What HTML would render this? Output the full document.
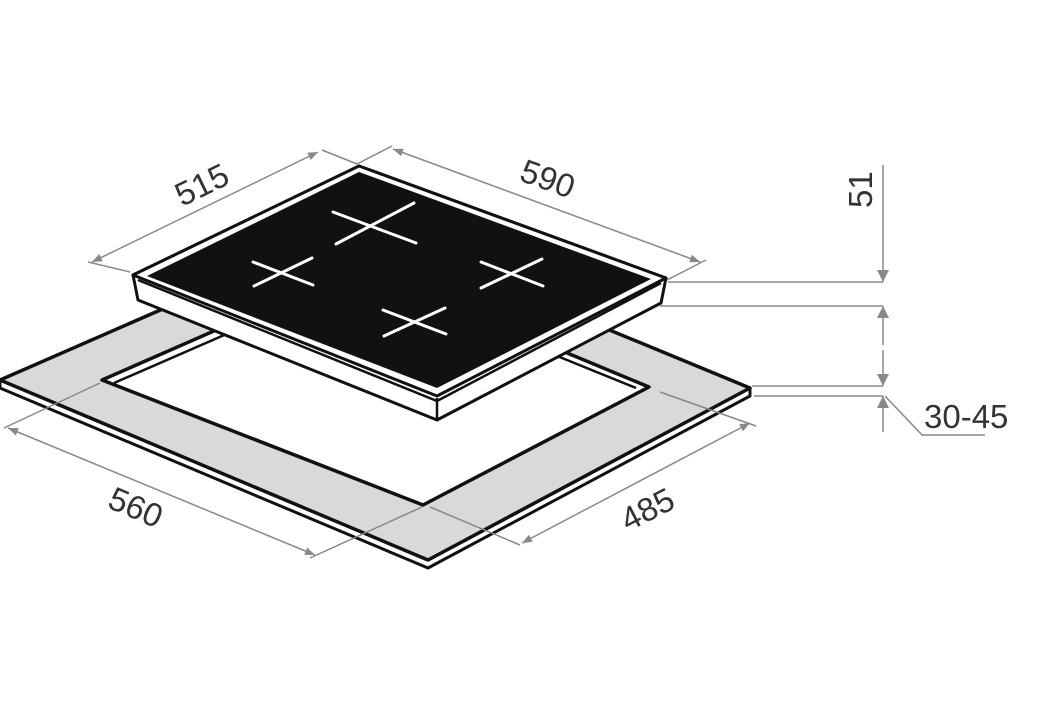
<!DOCTYPE html>
<html><head><meta charset="utf-8"><style>html,body{margin:0;padding:0;background:#fff}svg{display:block}</style></head>
<body>
<svg width="1037" height="708" viewBox="0 0 1037 708" xmlns="http://www.w3.org/2000/svg">
<defs>
<marker id="a" viewBox="0 0 10 10" refX="10" refY="5" markerWidth="12" markerHeight="10" orient="auto-start-reverse" markerUnits="userSpaceOnUse"><path d="M0,1 L10,5 L0,9 Z" fill="#888"/></marker>
<marker id="b" viewBox="0 0 10 10" refX="10" refY="5" markerWidth="16" markerHeight="12" orient="auto-start-reverse" markerUnits="userSpaceOnUse"><path d="M0,0 L10,5 L0,10 Z" fill="#888"/></marker>
</defs>
<!-- countertop -->
<polygon points="0,380 0,388 428,568 750,396 750,388 428,560" fill="#fff" stroke="#111" stroke-width="3" stroke-linejoin="round"/>
<polygon points="0,380 355,225 750,388 428,560" fill="#d9d9d9" stroke="#111" stroke-width="3.5" stroke-linejoin="round"/>
<polygon points="102,380 360,267 649,387 423,505" fill="#fff" stroke="#111" stroke-width="3.5" stroke-linejoin="round"/>
<polyline points="114,383 360,276 636,388" fill="none" stroke="#111" stroke-width="2.5"/>
<!-- hob -->
<polygon points="133,275 138,300 437,420 661,303 666,278 359,166" fill="#fff" stroke="#111" stroke-width="3" stroke-linejoin="round"/>
<polyline points="138,280 437,401 661,283" fill="none" stroke="#111" stroke-width="2.5"/>
<line x1="437" y1="398" x2="437" y2="420" stroke="#111" stroke-width="2.5"/>
<polygon points="133,275 359,166 666,278 437,396" fill="#fff" stroke="#111" stroke-width="3" stroke-linejoin="round"/>
<polygon points="147,276 359,172 651,279 437,388" fill="#111"/>
<g stroke="#fff" stroke-width="3" stroke-linecap="round">
<line x1="333" y1="212" x2="416" y2="243"/><line x1="336" y1="244" x2="414" y2="203"/>
<line x1="253" y1="262" x2="313" y2="285"/><line x1="254" y1="286" x2="312" y2="258"/>
<line x1="481" y1="262" x2="543" y2="286"/><line x1="481" y1="288" x2="542" y2="259"/>
<line x1="383" y1="310" x2="446" y2="334"/><line x1="384" y1="336" x2="445" y2="308"/>
</g>
<!-- dimensions -->
<g stroke="#888" stroke-width="1.5" fill="none">
<line x1="130" y1="272" x2="88" y2="262"/><line x1="357" y1="164" x2="322" y2="150"/>
<line x1="92" y1="262" x2="318" y2="152" marker-start="url(#a)" marker-end="url(#a)"/>
<line x1="357" y1="164" x2="392" y2="146"/><line x1="667" y1="280" x2="706" y2="260"/>
<line x1="393" y1="149" x2="700" y2="262" marker-start="url(#a)" marker-end="url(#a)"/>
<line x1="100" y1="383" x2="4" y2="428"/><line x1="422" y1="507" x2="310" y2="558"/>
<line x1="8" y1="428" x2="315" y2="555" marker-start="url(#a)" marker-end="url(#a)"/>
<line x1="430" y1="507" x2="520" y2="545"/><line x1="660" y1="392" x2="756" y2="426"/>
<line x1="522" y1="543" x2="750" y2="423" marker-start="url(#a)" marker-end="url(#a)"/>
<line x1="668" y1="282" x2="883" y2="282"/><line x1="660" y1="306" x2="883" y2="306"/>
<line x1="752" y1="386" x2="883" y2="386"/><line x1="754" y1="396" x2="883" y2="396"/>
<line x1="883" y1="165" x2="883" y2="282" marker-end="url(#b)"/>
<line x1="883" y1="306" x2="883" y2="345" marker-start="url(#b)"/>
<line x1="883" y1="350" x2="883" y2="386" marker-end="url(#b)"/>
<line x1="883" y1="396" x2="883" y2="432" marker-start="url(#b)"/>
<polyline points="885,396 922,435 985,435"/>
</g>
<g font-family="Liberation Sans, sans-serif" font-size="33" fill="#333">
<text transform="translate(182,207) rotate(-26)">515</text>
<text transform="translate(518,180) rotate(20)">590</text>
<text transform="translate(106,507) rotate(23)">560</text>
<text transform="translate(628,532) rotate(-27)">485</text>
<text transform="translate(872,208) rotate(-90)">51</text>
<text x="924" y="428">30-45</text>
</g>
</svg>
</body></html>
